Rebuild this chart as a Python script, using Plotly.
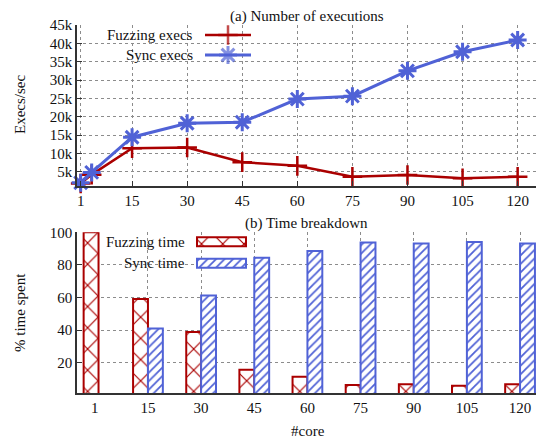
import plotly.graph_objects as go

# ---------------- data ----------------
cores_line = [1, 4, 15, 30, 45, 60, 75, 90, 105, 120]
fuzz_execs = [1800, 4200, 11400, 11600, 7600, 6600, 3600, 4100, 3200, 3600]
sync_execs = [2000, 4800, 14400, 18200, 18500, 24800, 25600, 32500, 37700, 40900]

x_ticks_top = [1, 15, 30, 45, 60, 75, 90, 105, 120]
y_ticks_top = [5000, 10000, 15000, 20000, 25000, 30000, 35000, 40000, 45000]
y_ticktext_top = ["5k", "10k", "15k", "20k", "25k", "30k", "35k", "40k", "45k"]

core_groups = ["1", "15", "30", "45", "60", "75", "90", "105", "120"]
fuzz_time = [100, 59, 38.8, 15.6, 11.4, 6.3, 6.8, 5.9, 6.8]
sync_time = [0, 41, 61.2, 84.4, 88.6, 93.7, 93.2, 94.1, 93.2]
y_ticks_bot = [20, 40, 60, 80, 100]

RED = "#aa0000"
BLUE = "#5062d6"
FONT = "Liberation Serif"
W, H = 538, 438


def fx(px):
    return px / W


def fy(py):
    return 1 - py / H


fig = go.Figure()

# ---- top: executions ----
fig.add_trace(go.Scatter(
    x=cores_line, y=fuzz_execs, mode="lines+markers", name="Fuzzing execs",
    line=dict(color=RED, width=2.5),
    marker=dict(symbol="cross-thin-open", size=14, color=RED, line=dict(color=RED, width=2.5)),
    cliponaxis=False, showlegend=False, xaxis="x", yaxis="y"))
fig.add_trace(go.Scatter(
    x=cores_line, y=sync_execs, mode="lines+markers", name="Sync execs",
    line=dict(color=BLUE, width=3),
    marker=dict(symbol="asterisk-open", size=15, color=BLUE, line=dict(color=BLUE, width=3)),
    cliponaxis=False, showlegend=False, xaxis="x", yaxis="y"))

# ---- bottom: time breakdown ----
pos = list(range(len(core_groups)))
bw = 0.28
fuzz_offset = [-0.21] + [-bw] * (len(core_groups) - 1)
XPAT = dict(shape="x", fgcolor=RED, bgcolor="white", size=15, solidity=0.15)
SPAT = dict(shape="/", fgcolor=BLUE, bgcolor="white", size=6, solidity=0.3)
fig.add_trace(go.Bar(
    x=pos, y=fuzz_time, width=bw, offset=fuzz_offset, name="Fuzzing time",
    marker=dict(color="white", line=dict(color=RED, width=2), pattern=XPAT),
    showlegend=False, xaxis="x2", yaxis="y2"))
fig.add_trace(go.Bar(
    x=pos, y=sync_time, width=bw, offset=0, name="Sync time",
    marker=dict(color="white", line=dict(color=BLUE, width=2), pattern=SPAT),
    showlegend=False, xaxis="x2", yaxis="y2"))

# ---- legend samples (pixel-space overlay axis) ----
fig.add_trace(go.Scatter(
    x=[205, 228, 251], y=[35, 35, 35], mode="lines+markers",
    line=dict(color=RED, width=2.5),
    marker=dict(symbol="cross-thin-open", size=[0, 14, 0], color=RED, line=dict(color=RED, width=2.5)),
    showlegend=False, hoverinfo="skip", xaxis="x3", yaxis="y3"))
fig.add_trace(go.Scatter(
    x=[205, 228, 251], y=[55, 55, 55], mode="lines+markers",
    line=dict(color=BLUE, width=3),
    marker=dict(symbol="asterisk-open", size=[0, 15, 0], color=BLUE, line=dict(color=BLUE, width=3)),
    showlegend=False, hoverinfo="skip", xaxis="x3", yaxis="y3"))
fig.add_trace(go.Bar(
    y=[241.7], x=[49], base=[197], width=9, orientation="h",
    marker=dict(color="white", line=dict(color=RED, width=2), pattern=XPAT),
    showlegend=False, hoverinfo="skip", xaxis="x3", yaxis="y3"))
fig.add_trace(go.Bar(
    y=[263.3], x=[49], base=[197], width=9, orientation="h",
    marker=dict(color="white", line=dict(color=BLUE, width=2), pattern=SPAT),
    showlegend=False, hoverinfo="skip", xaxis="x3", yaxis="y3"))

axis_common = dict(
    showline=True, linecolor="#333333", linewidth=1.5, mirror=False,
    showgrid=True, gridcolor="#8c8c8c", griddash="dot", gridwidth=1,
    zeroline=False, tickfont=dict(family=FONT, size=15, color="#111111"),
    fixedrange=True, automargin=False)

xdom = [fx(77), fx(536)]
fig.update_layout(
    template="none",
    width=W, height=H, autosize=False,
    margin=dict(l=0, r=0, t=0, b=0, pad=0, autoexpand=False),
    paper_bgcolor="white", plot_bgcolor="rgba(0,0,0,0)",
    barmode="overlay",
    font=dict(family=FONT, size=15, color="#111111"),
    xaxis=dict(**axis_common, domain=xdom, anchor="y", range=[0, 125],
               tickvals=x_ticks_top, ticks="inside", ticklen=5, tickcolor="#333333"),
    yaxis=dict(**axis_common, domain=[fy(186), fy(25)], anchor="x", range=[1100, 45000],
               tickvals=y_ticks_top, ticktext=y_ticktext_top,
               ticks="inside", ticklen=5, tickcolor="#333333"),
    xaxis2=dict(**axis_common, domain=xdom, anchor="y2", range=[-0.335, 8.30],
                tickvals=pos, ticktext=core_groups, ticks=""),
    yaxis2=dict(**axis_common, domain=[fy(393.3), fy(232.3)], anchor="x2", range=[1.2, 100],
                tickvals=y_ticks_bot, ticks="inside", ticklen=5, tickcolor="#333333"),
    xaxis3=dict(domain=[0, 1], range=[0, W], visible=False, anchor="y3",
                fixedrange=True, automargin=False),
    yaxis3=dict(domain=[0, 1], range=[H, 0], visible=False, anchor="x3",
                fixedrange=True, automargin=False),
)

ann = [
    dict(text="(a) Number of executions", x=fx(306.5), y=fy(16)),
    dict(text="(b) Time breakdown", x=fx(306.5), y=fy(223)),
    dict(text="Fuzzing execs", x=fx(195), y=fy(35), xanchor="right"),
    dict(text="Sync execs", x=fx(195), y=fy(55), xanchor="right"),
    dict(text="Fuzzing time", x=fx(187), y=fy(241.7), xanchor="right"),
    dict(text="Sync time", x=fx(187), y=fy(262.5), xanchor="right"),
    dict(text="Execs/sec", x=fx(20), y=fy(105), textangle=-90),
    dict(text="% time spent", x=fx(20), y=fy(313), textangle=-90),
    dict(text="#core", x=fx(308), y=fy(431)),
]
for a in ann:
    a.setdefault("xanchor", "center")
    fig.add_annotation(xref="paper", yref="paper", showarrow=False, yanchor="middle",
                       font=dict(family=FONT, size=15, color="#111111"), **a)

fig.write_html("out.html", config={"displayModeBar": False},
               post_script="document.body.style.margin='0';document.body.style.padding='0';"
                           "document.documentElement.style.overflow='hidden';")
